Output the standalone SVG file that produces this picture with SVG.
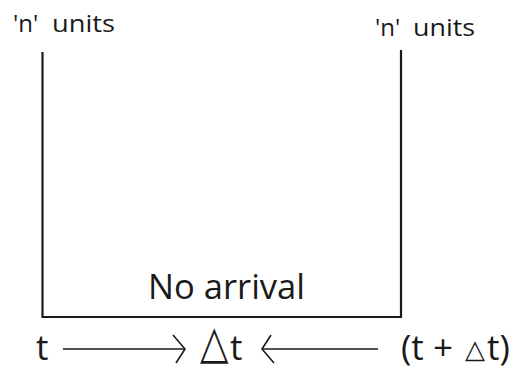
<svg xmlns="http://www.w3.org/2000/svg" width="514" height="369" viewBox="0 0 514 369">
  <style>
    text { font-family: "Open Sans", "Liberation Sans", sans-serif; fill: #1a1a1a; }
    .small { font-size: 24px; }
    .mid { font-size: 35px; }
    .big { font-size: 35px; }
    .delta { font-family: "DejaVu Sans", sans-serif; }
    .wall { stroke: #1a1a1a; stroke-width: 2.2; fill: none; }
    .arrow { stroke: #1a1a1a; stroke-width: 1.6; fill: none; }
  </style>
  <defs>
    <marker id="head" markerWidth="16" markerHeight="32" refX="13" refY="15" orient="auto" markerUnits="userSpaceOnUse">
      <path d="M1,1 L13,15 L4,29" stroke="#1a1a1a" stroke-width="1.6" fill="none"/>
    </marker>
  </defs>
  <rect width="514" height="369" fill="#ffffff"/>

  <g id="container">
    <path class="wall" d="M42.5,52 V317 H401 V50"/>
    <text class="mid" x="148" y="299" textLength="157" lengthAdjust="spacingAndGlyphs">No arrival</text>
  </g>

  <g id="label-left">
    <text class="small" y="32"><tspan x="13">'n'</tspan><tspan x="52" textLength="63" lengthAdjust="spacingAndGlyphs">units</tspan></text>
  </g>
  <g id="label-right">
    <text class="small" y="36"><tspan x="375">'n'</tspan><tspan x="413" textLength="62" lengthAdjust="spacingAndGlyphs">units</tspan></text>
  </g>

  <g id="t-start">
    <text class="big" x="36" y="360">t</text>
  </g>
  <g id="delta-t">
    <text class="delta" font-size="37" transform="translate(200,358) scale(1,1.25)">△</text>
    <text class="big" x="230" y="360">t</text>
  </g>
  <g id="t-end">
    <text class="big" y="360"><tspan x="401">(t +</tspan><tspan class="delta" x="465" y="358" font-size="26">△</tspan><tspan x="487" y="360">t)</tspan></text>
  </g>

  <g id="connectors">
    <line class="arrow" x1="63" y1="349" x2="185" y2="349" marker-end="url(#head)"/>
    <line class="arrow" x1="378" y1="349" x2="262" y2="349" marker-end="url(#head)"/>
  </g>
</svg>
